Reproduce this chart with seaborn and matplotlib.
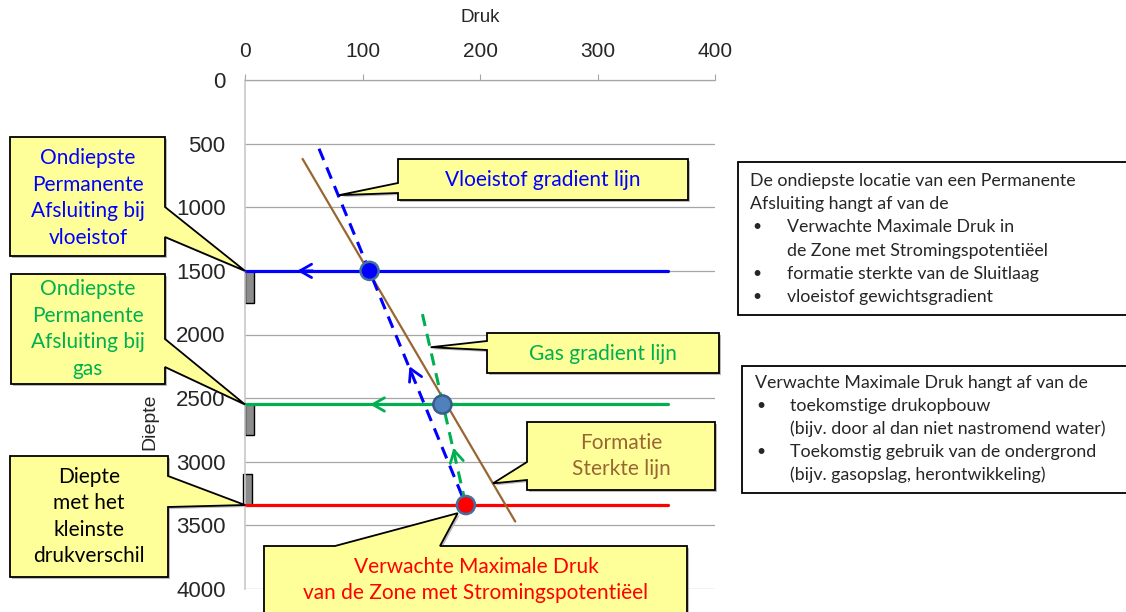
import numpy as np
import pandas as pd
import matplotlib
matplotlib.use("Agg")
import matplotlib.pyplot as plt
import seaborn as sns
from matplotlib.patches import Polygon, Rectangle

# --- data (druk in bar, diepte in m) ---
level_depths = [1500, 2550, 3340]          # vloeistof, gas, kleinste drukverschil
level_colors = ["#0000FF", "#00B050", "#FF0000"]
level_x = [0, 360]

dot_druk = [106, 168, 188]
dot_diepte = [1500, 2550, 3340]
dot_fill = ["#0000FF", "#4F81BD", "#FF0000"]
dot_edge = ["#41719C", "#385D8A", "#41719C"]

formatie_druk = [49, 230]
formatie_diepte = [620, 3470]
vloeistof_druk = [63, 188]
vloeistof_diepte = [540, 3340]
gas_druk = [151, 188]
gas_diepte = [1840, 3340]

seal_top = [1500, 2550, 3100]
seal_bottom = [1750, 2790, 3340]
seal_left = [0, 0, -2]

xticks = [0, 100, 200, 300, 400]
yticks = [0, 500, 1000, 1500, 2000, 2500, 3000, 3500, 4000]

W, H = 1126, 612
YELLOW = "#FFFF99"
BROWN = "#996633"

sns.set_theme(style="white")
plt.rcParams["font.family"] = ["Liberation Sans", "DejaVu Sans"]

fig = plt.figure(figsize=(W / 100, H / 100), dpi=100)
ax = fig.add_axes([245 / W, 1 - 589 / H, (715 - 245) / W, (589 - 80) / H])

# horizontale lijnen
for d, c in zip(level_depths, level_colors):
    df = pd.DataFrame({"druk": level_x, "diepte": [d, d]})
    sns.lineplot(data=df, x="druk", y="diepte", color=c, lw=2.3, ax=ax,
                 sort=False, estimator=None, zorder=3)

# gradient lijnen
df_f = pd.DataFrame({"druk": formatie_druk, "diepte": formatie_diepte})
sns.lineplot(data=df_f, x="druk", y="diepte", color=BROWN, lw=1.6, ax=ax,
             sort=False, estimator=None, zorder=4)
df_v = pd.DataFrame({"druk": vloeistof_druk, "diepte": vloeistof_diepte})
sns.lineplot(data=df_v, x="druk", y="diepte", color="#0000FF", lw=2.2, ax=ax,
             sort=False, estimator=None, linestyle=(0, (4, 2.6)), zorder=4)
df_g = pd.DataFrame({"druk": gas_druk, "diepte": gas_diepte})
sns.lineplot(data=df_g, x="druk", y="diepte", color="#00B050", lw=2.2, ax=ax,
             sort=False, estimator=None, linestyle=(0, (4, 2.6)), zorder=4)

# afsluitingen (grijze blokjes)
ax.bar(seal_left, np.array(seal_bottom) - np.array(seal_top), bottom=seal_top,
       width=8, align="edge", color="#8C8C8C", edgecolor="black", lw=1.0, zorder=2,
       clip_on=False)

# pijltjes
arrow = dict(arrowstyle="->,head_length=0.7,head_width=0.4", lw=2.0)
ax.annotate("", xy=(42, 1500), xytext=(60, 1500),
            arrowprops=dict(color="#0000FF", **arrow), zorder=5)
ax.annotate("", xy=(104, 2550), xytext=(122, 2550),
            arrowprops=dict(color="#00B050", **arrow), zorder=5)
ax.annotate("", xy=(139, 2230), xytext=(142.5, 2300),
            arrowprops=dict(color="#0000FF", **arrow), zorder=5)
ax.annotate("", xy=(177, 2870), xytext=(178.7, 2940),
            arrowprops=dict(color="#00B050", **arrow), zorder=5)

# punten
df_dots = pd.DataFrame({"druk": dot_druk, "diepte": dot_diepte})
sns.scatterplot(data=df_dots, x="druk", y="diepte", ax=ax, s=170,
                color=dot_fill, edgecolor=dot_edge, linewidth=1.8, zorder=7)

ax.set_xlim(0, 400)
ax.set_ylim(4000, 0)
ax.set_xticks(xticks)
ax.set_yticks(yticks)
ax.xaxis.tick_top()
ax.xaxis.set_label_position("top")
ax.set_xlabel("Druk", fontsize=13.5, labelpad=14)
ax.set_ylabel("")
ax.tick_params(axis="x", labelsize=15, length=4, color="#A6A6A6", pad=10, width=0.8)
ax.tick_params(axis="y", labelsize=16, length=6, color="#A6A6A6", pad=8, width=0.8)
ax.grid(axis="y", color="#A6A6A6", lw=0.9)
ax.grid(axis="x", visible=False)
for s in ["right", "bottom"]:
    ax.spines[s].set_visible(False)
ax.spines["left"].set_color("#C8C8C8")
ax.spines["top"].set_color("#A6A6A6")
ax.spines["left"].set_linewidth(1.2)
ax.spines["top"].set_linewidth(0.9)

fig.text(150 / W, 1 - 422 / H, "Diepte", rotation=90, ha="center", va="center",
         fontsize=14)

TXT_FONT = ["Lato", "DejaVu Sans"]


def px(x, y):
    return (x / W, 1 - y / H)


def data_px(x, d):
    X, Y = ax.transData.transform((x, d))
    return (X, H - Y)


def callout(box, side, base, tip, text, color, center=None, fs=15):
    x0, y0, x1, y1 = box
    if side == "right":
        pts = [(x0, y0), (x1, y0), (x1, base[0]), tip, (x1, base[1]), (x1, y1), (x0, y1)]
    elif side == "left":
        pts = [(x0, y0), (x1, y0), (x1, y1), (x0, y1), (x0, base[1]), tip, (x0, base[0])]
    else:
        pts = [(x0, y0), (base[0], y0), tip, (base[1], y0), (x1, y0), (x1, y1), (x0, y1)]
    shadow = Polygon([px(x + 2, y + 2) for x, y in pts], closed=True, fc="#BBBBBB",
                     ec="none", transform=fig.transFigure, clip_on=False, zorder=5.8)
    poly = Polygon([px(x, y) for x, y in pts], closed=True, fc=YELLOW, ec="black",
                   lw=1.3, transform=fig.transFigure, clip_on=False, zorder=6)
    ax.add_patch(shadow)
    ax.add_patch(poly)
    if center is None:
        center = ((x0 + x1) / 2, (y0 + y1) / 2)
    fig.text(*px(*center), text, ha="center", va="center", color=color,
             fontsize=fs, family=TXT_FONT, linespacing=1.4, zorder=8)


callout((10, 137, 165, 256), "right", (207, 237), data_px(0, 1500),
        "Ondiepste\nPermanente\nAfsluiting bij\nvloeistof", "#0000FF", center=(88, 198))
callout((11, 274, 165, 384), "right", (339, 367), data_px(0, 2550),
        "Ondiepste\nPermanente\nAfsluiting bij\ngas", "#00B050")
callout((10, 456, 168, 577), "right", (476, 507), data_px(0, 3340),
        "Diepte\nmet het\nkleinste\ndrukverschil", "black")
callout((398, 159, 688, 200), "left", (183, 193), data_px(80, 905),
        "Vloeistof gradient lijn", "#0000FF", center=(543, 180))
callout((487, 333, 719, 373), "left", (341, 350), data_px(158, 2100),
        "Gas gradient lijn", "#00B050", center=(603, 354))
callout((527, 422, 715, 490), "left", (462, 480), data_px(211, 3170),
        "Formatie\nSterkte lijn", BROWN, center=(621, 456))
callout((264, 546, 687, 625), "top", (335, 440), data_px(181, 3404),
        "Verwachte Maximale Druk\nvan de Zone met Stromingspotentiëel", "#FF0000",
        center=(476, 580))

# tekstvakken rechts
for (x0, y0, x1, y1) in [(738, 162, 1135, 315), (742, 366, 1135, 493)]:
    fig.patches.append(Rectangle(px(x0, y1), (x1 - x0) / W, (y1 - y0) / H,
                                 fc="white", ec="black", lw=1.3,
                                 transform=fig.transFigure, zorder=1))

box1_lines = [
    (0, "De ondiepste locatie van een Permanente"),
    (0, "Afsluiting hangt af van de"),
    (1, "Verwachte Maximale Druk in"),
    (2, "de Zone met Stromingspotentiëel"),
    (1, "formatie sterkte van de Sluitlaag"),
    (1, "vloeistof gewichtsgradient"),
]
box2_lines = [
    (0, "Verwachte Maximale Druk hangt af van de"),
    (1, "toekomstige drukopbouw"),
    (2, "(bijv. door al dan niet nastromend water)"),
    (1, "Toekomstig gebruik van de ondergrond"),
    (2, "(bijv. gasopslag, herontwikkeling)"),
]


def bullet_text(lines, x_text, x_bullet, x_indent, y_first, step, fs=12.8):
    for i, (kind, t) in enumerate(lines):
        y = y_first + i * step
        if kind == 0:
            fig.text(*px(x_text, y), t, ha="left", va="center", fontsize=fs,
                     family=TXT_FONT)
        else:
            if kind == 1:
                fig.text(*px(x_bullet, y), "•", ha="left", va="center",
                         fontsize=fs - 1.5, family=TXT_FONT)
            fig.text(*px(x_indent, y), t, ha="left", va="center", fontsize=fs,
                     family=TXT_FONT)


bullet_text(box1_lines, 750, 752, 787, 181, 23.2)
bullet_text(box2_lines, 755, 756, 790, 383, 23.0)

fig.savefig("out.png", dpi=100)
